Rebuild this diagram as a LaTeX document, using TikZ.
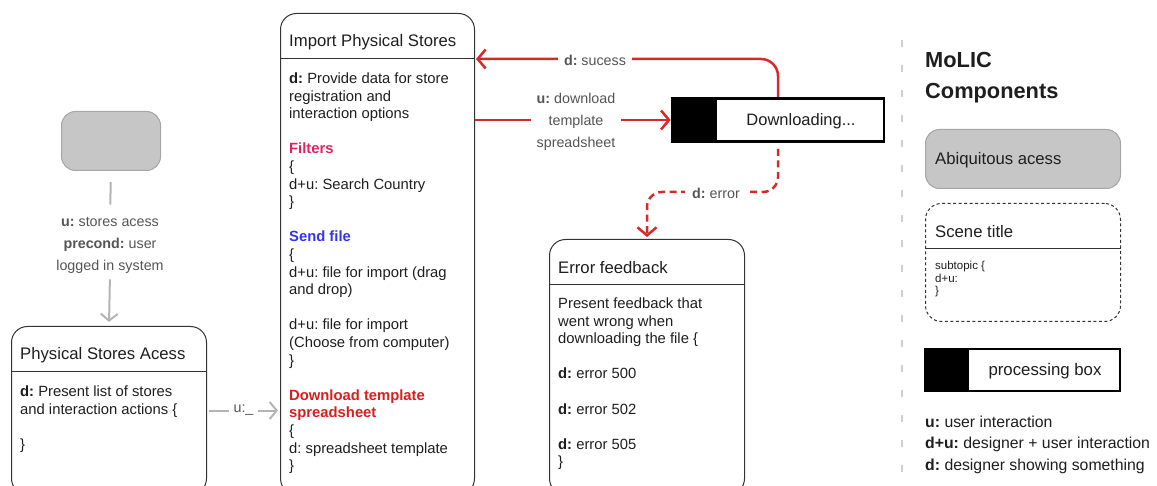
\documentclass[tikz,border=0pt]{standalone}
\usepackage{fontspec}
\setmainfont{Liberation Sans}
\usetikzlibrary{arrows.meta,calc}
\frenchspacing

\definecolor{boxline}{HTML}{333333}
\definecolor{ink}{HTML}{1E1E1E}
\definecolor{labelgray}{HTML}{555555}
\definecolor{conngray}{HTML}{B4B4B4}
\definecolor{accessfill}{HTML}{C6C6C6}
\definecolor{accessline}{HTML}{A6A6A6}
\definecolor{flowred}{HTML}{D42A2A}
\definecolor{filterpink}{HTML}{E0245E}
\definecolor{sendblue}{HTML}{3434F0}
\definecolor{dlred}{HTML}{D81E1E}
\definecolor{sepgray}{HTML}{CFCFCF}

\tikzset{
  scene/.style={draw=boxline, line width=1pt, rounded corners=16pt,
    anchor=north west, inner sep=0pt},
  access/.style={draw=accessline, fill=accessfill, line width=1pt,
    rounded corners=14pt, anchor=north west, inner sep=0pt},
  scenetitle/.style={anchor=west, inner sep=0pt, text=ink,
    font=\fontsize{16.7}{19}\selectfont},
  scenebody/.style={anchor=north west, inner sep=0pt, align=left, text=ink,
    font=\fontsize{14.8}{17.6}\selectfont},
  flowlabel/.style={fill=white, inner xsep=6pt, inner ysep=2pt, align=center,
    text=labelgray, font=\fontsize{14.3}{22}\selectfont},
  grayconn/.style={draw=conngray, line width=2pt,
    -{Straight Barb[length=7pt,width=17pt,line width=2pt]}},
  redconn/.style={draw=flowred, line width=2.5pt, rounded corners=17pt,
    -{Straight Barb[length=8pt,width=19pt,line width=2.5pt]}},
  procbox/.style={draw=black, line width=2.6pt, fill=white, inner sep=0pt},
  legend/.style={anchor=west, inner sep=0pt, text=ink,
    font=\fontsize{15.8}{18}\selectfont},
}

\begin{document}
\begin{tikzpicture}[x=1pt, y=-1pt]
\useasboundingbox (0,0) rectangle (1157,486);
\clip (0,0) rectangle (1157,486);

% ---------- ubiquitous access and first scene ----------
\node[access, minimum width=99pt, minimum height=59pt] (ubox) at (61,111) {};

\node[scene, minimum width=195pt, minimum height=168pt] (psa) at (11,326) {};
\draw[boxline, line width=1pt] ($(psa.north west)+(0,46)$) -- ($(psa.north east)+(0,46)$);
\node[scenetitle] (psaT) at ($(psa.north west)+(9,29)$) {Physical Stores Acess};
\node[scenebody] (psaB) at ($(psa.north west)+(9,59.5)$)
  {\textbf{d:} Present list of stores\\ and interaction actions \{\\[17.6pt] \}};

\node[align=center, inner sep=0pt, text=labelgray,
  font=\fontsize{14.3}{22}\selectfont] (lab1) at (110,245)
  {\textbf{u:} stores acess\\ \textbf{precond:} user\\ logged in system};
\draw[draw=conngray, line width=2pt, shorten <=11pt, shorten >=12pt]
  (ubox.south) -- (lab1.north);
\draw[grayconn, shorten <=6pt, shorten >=4pt] (lab1.south) -- (psa.north);

% ---------- import scene ----------
\node[scene, minimum width=194pt, minimum height=481pt] (imp) at (280,13) {};
\draw[boxline, line width=1pt] ($(imp.north west)+(0,46)$) -- ($(imp.north east)+(0,46)$)
  coordinate (impsep);
\node[scenetitle] (impT) at ($(imp.north west)+(9,29)$) {Import Physical Stores};
\node[scenebody] (impB) at ($(imp.north west)+(9,59.5)$)
  {\textbf{d:} Provide data for store\\ registration and\\ interaction options\\[17.6pt]
   {\color{filterpink}\bfseries Filters}\\ \{\\ d+u: Search Country\\ \}\\[17.6pt]
   {\color{sendblue}\bfseries Send file}\\ \{\\ d+u: file for import (drag\\ and drop)\\[17.6pt]
   d+u: file for import\\ (Choose from computer)\\ \}\\[17.6pt]
   {\color{dlred}\bfseries Download template}\\ {\color{dlred}\bfseries spreadsheet}\\
   \{\\ d: spreadsheet template\\ \}};

\draw[grayconn, shorten <=2pt, shorten >=2pt] (psa.east) --
  node[flowlabel, inner xsep=5pt] (labU) {u:\_} (psa.east -| imp.west);

% ---------- processing box ----------
\node[procbox, minimum width=212pt, minimum height=43pt] (dl) at (778,120) {};
\fill[black] (dl.north west) rectangle ($(dl.south west)+(46,0)$);
\node[inner sep=0pt, text=ink, font=\fontsize{16.5}{19}\selectfont] (dlT)
  at ($(dl.center)+(23,1)$) {Downloading...};

% ---------- error scene ----------
\node[scene, minimum width=195pt, minimum height=255pt] (err) at (549,239) {};
\draw[boxline, line width=1pt] ($(err.north west)+(0,46)$) -- ($(err.north east)+(0,46)$);
\node[scenetitle] (errT) at ($(err.north west)+(9,29)$) {Error feedback};
\node[scenebody] (errB) at ($(err.north west)+(9,58.5)$)
  {Present feedback that\\ went wrong when\\ downloading the file \{\\[17.6pt]
   \textbf{d:} error 500\\[17.6pt] \textbf{d:} error 502\\[17.6pt] \textbf{d:} error 505\\ \}};

% ---------- red flows ----------
\draw[redconn, shorten >=1pt] (dl.north) |- (impsep);
\node[flowlabel] (labS) at (595,60) {\textbf{d:} sucess};

\draw[redconn] (imp.east |- dl.west) -- (dl.west);
\node[flowlabel] (labD) at (576,122) {\textbf{u:} download\\ template\\ spreadsheet};

\coordinate (errbend) at (700,192);
\draw[redconn, dash pattern=on 7pt off 4.5pt, rounded corners=15pt,
  shorten <=6pt, shorten >=2pt] (dl.south) |- (errbend) -| (err.north);
\node[flowlabel, inner xsep=7pt] (labE) at (716,193) {\textbf{d:} error};

% ---------- legend ----------
\draw[draw=sepgray, line width=2pt, dash pattern=on 7pt off 18pt] (902,40) -- (902,486);

\node[anchor=west, inner sep=0pt, text=ink, font=\fontsize{21.8}{24}\bfseries] (legT1)
  at (925,60) {MoLIC};
\node[anchor=west, inner sep=0pt, text=ink, font=\fontsize{21.8}{24}\bfseries] (legT2)
  at (925,93) {Components};

\node[access, minimum width=195pt, minimum height=59pt] (legA) at (925,129) {};
\node[scenetitle] (legAT) at ($(legA.west)+(10,1)$) {Abiquitous acess};

\node[scene, dash pattern=on 3pt off 2.5pt, minimum width=195pt, minimum height=118pt]
  (legS) at (925,203) {};
\draw[boxline, line width=1pt] ($(legS.north west)+(0,46)$) -- ($(legS.north east)+(0,46)$);
\node[scenetitle] (legST) at ($(legS.north west)+(10,29)$) {Scene title};
\node[anchor=north west, inner sep=0pt, align=left, text=ink,
  font=\fontsize{11.5}{12.5}\selectfont] (legSB) at ($(legS.north west)+(10,58)$)
  {subtopic \{\\ d+u:\\ \}};

\node[procbox, minimum width=195pt, minimum height=42pt] (legP) at (1022.5,370) {};
\fill[black] (legP.north west) rectangle ($(legP.south west)+(45,0)$);
\node[inner sep=0pt, text=ink, font=\fontsize{16.8}{19}\selectfont] (legPT)
  at ($(legP.center)+(22.5,1)$) {processing box};

\node[legend] (legU) at (925,422) {\textbf{u:} user interaction};
\node[legend] (legDU) at (925,444) {\textbf{d+u:} designer + user interaction};
\node[legend] (legD) at (925,466) {\textbf{d:} designer showing something};
\end{tikzpicture}
\end{document}
